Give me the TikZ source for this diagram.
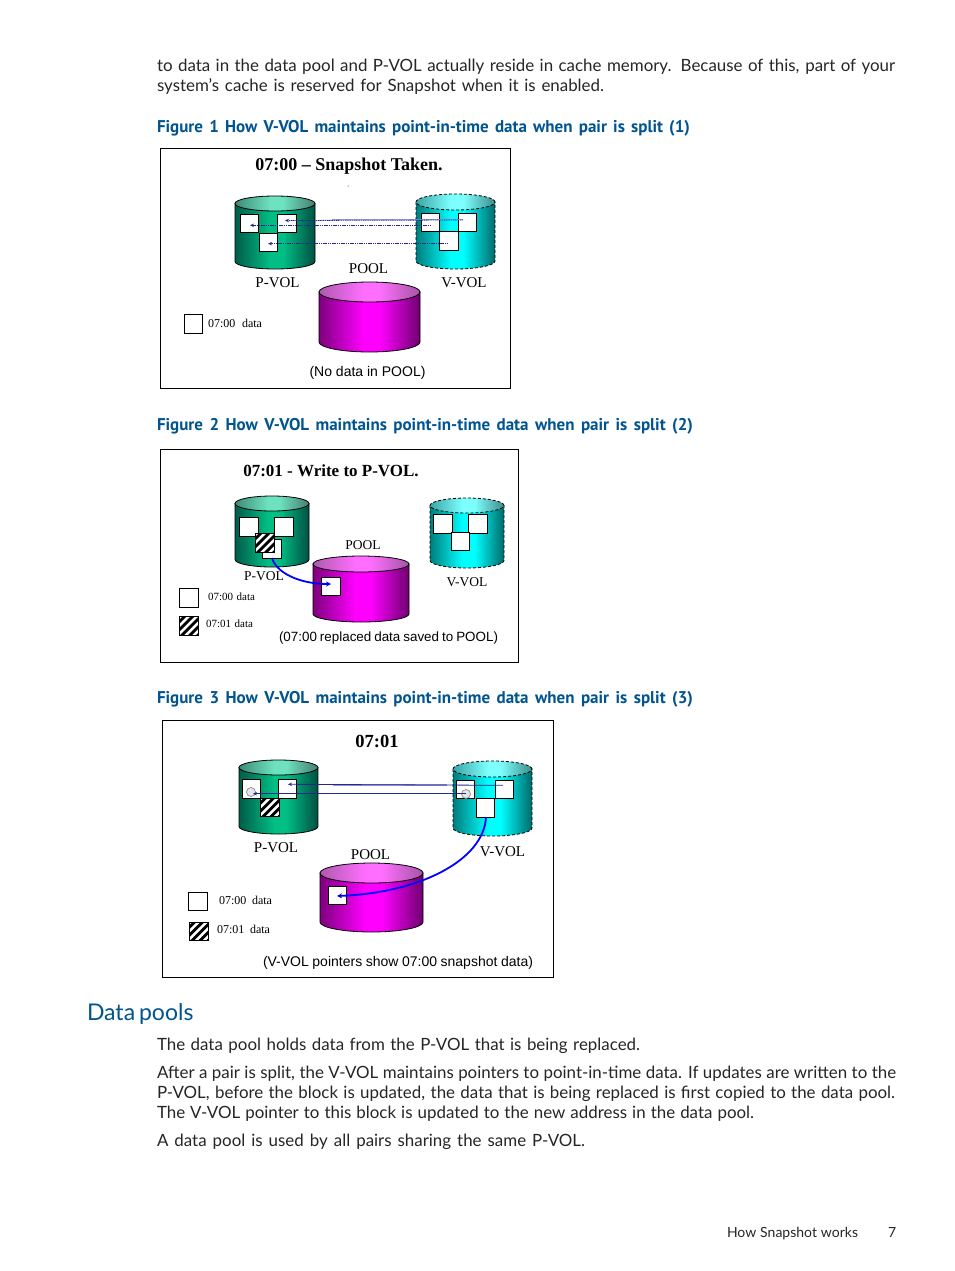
\documentclass[tikz,border=0pt]{standalone}
\usepackage{fontspec}
\usetikzlibrary{shapes.geometric,arrows.meta}
\newfontfamily\bodyf{Lato}
\newfontfamily\capf{PT Sans}
\newfontfamily\serf{Liberation Serif}
\newfontfamily\sanf{Liberation Sans}
\definecolor{hpblue}{RGB}{0,84,143}
\definecolor{ptr}{RGB}{40,40,140}
\definecolor{lav}{RGB}{150,150,225}
\definecolor{pvA}{RGB}{0,92,72}\definecolor{pvB}{RGB}{0,190,132}\definecolor{pvC}{RGB}{0,80,66}
\definecolor{pvD}{RGB}{60,140,120}\definecolor{pvE}{RGB}{110,225,190}\definecolor{pvF}{RGB}{70,125,115}
\definecolor{vvA}{RGB}{0,125,125}\definecolor{vvB}{RGB}{0,255,255}\definecolor{vvC}{RGB}{0,105,105}
\definecolor{vvD}{RGB}{60,165,165}\definecolor{vvE}{RGB}{125,255,255}\definecolor{vvF}{RGB}{60,140,140}
\definecolor{poA}{RGB}{125,0,125}\definecolor{poB}{RGB}{255,0,255}\definecolor{poC}{RGB}{110,0,110}
\definecolor{poD}{RGB}{175,90,175}\definecolor{poE}{RGB}{255,110,255}\definecolor{poF}{RGB}{165,85,165}
\pgfdeclarehorizontalshading{pvbS}{100bp}{color(0bp)=(pvA);color(25bp)=(pvA);color(47bp)=(pvB);color(55bp)=(pvB);color(75bp)=(pvC);color(100bp)=(pvC)}
\pgfdeclarehorizontalshading{pvtS}{100bp}{color(0bp)=(pvD);color(25bp)=(pvD);color(47bp)=(pvE);color(55bp)=(pvE);color(75bp)=(pvF);color(100bp)=(pvF)}
\pgfdeclarehorizontalshading{vvbS}{100bp}{color(0bp)=(vvA);color(25bp)=(vvA);color(47bp)=(vvB);color(55bp)=(vvB);color(75bp)=(vvC);color(100bp)=(vvC)}
\pgfdeclarehorizontalshading{vvtS}{100bp}{color(0bp)=(vvD);color(25bp)=(vvD);color(47bp)=(vvE);color(55bp)=(vvE);color(75bp)=(vvF);color(100bp)=(vvF)}
\pgfdeclarehorizontalshading{pobS}{100bp}{color(0bp)=(poA);color(25bp)=(poA);color(47bp)=(poB);color(55bp)=(poB);color(75bp)=(poC);color(100bp)=(poC)}
\pgfdeclarehorizontalshading{potS}{100bp}{color(0bp)=(poD);color(25bp)=(poD);color(47bp)=(poE);color(55bp)=(poE);color(75bp)=(poF);color(100bp)=(poF)}
\tikzset{
  txt/.style={inner sep=0pt,outer sep=0pt,anchor=base west,text=#1},
  txt/.default=black,
  line/.style={txt=black!85,font=\bodyf\fontsize{16.9}{20}\selectfont},
  figcap/.style={txt=hpblue,font=\capf\bfseries\fontsize{17}{20}\selectfont},
  frame/.style={draw=black,line width=0.9pt},
  sq/.style={draw=black,fill=white,line width=0.8pt,minimum size=18.5pt,inner sep=0pt,outer sep=0pt},
  hatch/.style={sq,path picture={
     \foreach \k in {-24,-16,...,16}{
       \fill[black] ([xshift=\k pt]path picture bounding box.south west) -- ++(4pt,0) -- ++(20pt,20pt) -- ++(-4pt,0) -- cycle;}}},
  title/.style={inner sep=0pt,font=\serf\bfseries\fontsize{#1}{20}\selectfont},
  vlabel/.style={inner sep=0pt,font=\serf\fontsize{#1}{16}\selectfont},
  legend/.style={txt=black,font=\serf\fontsize{#1}{13}\selectfont},
  note/.style={inner sep=0pt,font=\sanf\fontsize{#1}{15}\selectfont},
  ptrline/.style={draw=ptr,line width=0.8pt,-{Stealth[length=4pt,width=3.5pt]}},
  dotptr/.style={ptrline,dash pattern=on 1.2pt off 0.6pt},
  band/.style={draw=lav,line width=1.2pt},
  bigarrow/.style={draw=blue,line width=1.8pt,-{Stealth[length=5pt,width=5pt]}},
  ringmark/.style={circle,draw=black!45,fill=cyan!10!black!12,line width=0.7pt,minimum size=9pt,inner sep=0pt},
}
% name, x0, x1, ytop, yellipsebottom, ybottom, body shading, top shading, outline options
\newcommand{\cyl}[9]{%
  \pgfmathsetmacro{\rx}{(#3-#2)/2}\pgfmathsetmacro{\ry}{(#5-#4)/2}
  \pgfmathsetmacro{\xm}{(#2+#3)/2}\pgfmathsetmacro{\yc}{#4+\ry}\pgfmathsetmacro{\yb}{#6-\ry}
  \pgfmathsetmacro{\kx}{0.5523*\rx}\pgfmathsetmacro{\ky}{0.5523*\ry}
  \path[shade,shading=#7,draw=black,line width=0.8pt,#9] (#2,\yc) -- (#2,\yb)
     .. controls (#2,\yb+\ky) and (\xm-\kx,#6) .. (\xm,#6)
     .. controls (\xm+\kx,#6) and (#3,\yb+\ky) .. (#3,\yb) -- (#3,\yc) -- cycle;
  \node[ellipse,shade,shading=#8,draw=black,line width=0.8pt,#9,inner sep=0pt,outer sep=0pt,
        minimum width=#3 pt-#2 pt,minimum height=#5 pt-#4 pt] (#1) at (\xm,\yc) {};
}
\newcommand{\wl}[2]{\makebox[#1pt][s]{#2}}
\begin{document}
\begin{tikzpicture}[x=1pt,y=-1pt]
\useasboundingbox (0,0) rectangle (954,1271);
\fill[white] (0,0) rectangle (954,1271);
% page text
\node[line] (l1) at (157,72) {\wl{738}{to data in the data pool and P-VOL actually reside in cache memory. Because of this, part of your}};
\node[line] (l2) at (157,92) {\wl{447}{system’s cache is reserved for Snapshot when it is enabled.}};
\node[figcap] (c1) at (157,132) {\wl{533}{Figure 1 How V-VOL maintains point-in-time data when pair is split (1)}};
\node[figcap] (c2) at (157,430) {\wl{536}{Figure 2 How V-VOL maintains point-in-time data when pair is split (2)}};
\node[figcap] (c3) at (157,703) {\wl{536}{Figure 3 How V-VOL maintains point-in-time data when pair is split (3)}};
\node[txt=hpblue,font=\bodyf\fontsize{23}{26}\selectfont] (h1) at (87,1020) {\wl{104}{Data pools}};
\node[line] (l3) at (157,1050) {\wl{483}{The data pool holds data from the P-VOL that is being replaced.}};
\node[line] (l4) at (157,1078) {\wl{739}{After a pair is split, the V-VOL maintains pointers to point-in-time data. If updates are written to the}};
\node[line] (l5) at (157,1098) {\wl{738}{P-VOL, before the block is updated, the data that is being replaced is first copied to the data pool.}};
\node[line] (l6) at (157,1118) {\wl{597}{The V-VOL pointer to this block is updated to the new address in the data pool.}};
\node[line] (l7) at (157,1146) {\wl{428}{A data pool is used by all pairs sharing the same P-VOL.}};
\node[txt=black!85,font=\bodyf\fontsize{14}{16}\selectfont] (f1) at (727,1237) {\wl{131}{How Snapshot works}};
\node[txt=black!85,font=\bodyf\fontsize{14}{16}\selectfont] (f2) at (888,1237) {7};

% ---------- Figure 1
\draw[frame] (160.5,148.5) rectangle (510.5,388.5);
\node[title=18] (a0) at (349,166) {07:00 – Snapshot Taken.};
\fill[black] (348,186) circle (0.5);
\cyl{ap}{235}{315}{196}{211}{269}{pvbS}{pvtS}{solid}
\cyl{av}{416}{495}{194}{210}{269}{vvbS}{vvtS}{densely dashed}
\cyl{ao}{319}{420}{282}{302}{352}{pobS}{potS}{solid}
\node[sq] (ap1) at (249.5,223.5) {};
\node[sq] (ap2) at (287,223.5) {};
\node[sq] (ap3) at (268.5,242.5) {};
\node[sq] (av1) at (430.5,222.5) {};
\node[sq] (av2) at (467.5,222.5) {};
\node[sq] (av3) at (449,241) {};
\coordinate (ab1) at (332,219.7); \coordinate (ab2) at (463,219.7);
\draw[band] (ab1) -- (ab2);
\coordinate (as1) at (463,220); \coordinate (ae1) at (285,220.5);
\coordinate (as2) at (431,225.3); \coordinate (ae2) at (250,225.3);
\coordinate (as3) at (448,243.7); \coordinate (ae3) at (268,243.7);
\draw[dotptr] (as1) -- (ae1);
\draw[dotptr] (as2) -- (ae2);
\draw[dotptr] (as3) -- (ae3);
\node[vlabel=15] (a1) at (277.5,283) {P-VOL};
\node[vlabel=15] (a2) at (464,283) {V-VOL};
\node[vlabel=15] (a3) at (368.5,269) {POOL};
\node[sq] (a4) at (193.5,324) {};
\node[legend=12] (a5) at (208,327) {\wl{54}{07:00 data}};
\node[note=14] (a6) at (367.5,372.5) {(No data in POOL)};

% ---------- Figure 2
\draw[frame] (160.5,449.5) rectangle (518.5,662.5);
\node[title=17] (b0) at (331,471) {07:01 - Write to P-VOL.};
\cyl{bp}{235}{309}{496}{511}{567}{pvbS}{pvtS}{solid}
\cyl{bv}{430}{504}{498}{513}{568}{vvbS}{vvtS}{densely dashed}
\cyl{bo}{313}{409}{556}{572}{622}{pobS}{potS}{solid}
\node[sq] (bp1) at (249,527) {};
\node[sq] (bp2) at (284,527) {};
\node[sq] (bp3) at (272,549) {};
\node[hatch] (bp4) at (265,543) {};
\node[sq] (bv1) at (443,524) {};
\node[sq] (bv2) at (478,524) {};
\node[sq] (bv3) at (460.5,541.5) {};
\node[sq] (bo1) at (331,586.5) {};
\coordinate (bs) at (272,558); \coordinate (be) at (331,584);
\draw[bigarrow] (bs) .. controls (276,572) and (298,584) .. (be);
\node[vlabel=13.5] (b1) at (264,576) {P-VOL};
\node[vlabel=13.5] (b2) at (467,582) {V-VOL};
\node[vlabel=13.5] (b3) at (363,545) {POOL};
\node[sq] (b4) at (189,598) {};
\node[hatch] (b5) at (189,626) {};
\node[legend=11] (b6) at (208,600) {\wl{47}{07:00 data}};
\node[legend=11] (b7) at (206,627) {\wl{47}{07:01 data}};
\node[note=13.4] (b8) at (388.5,638.5) {\wl{219}{(07:00 replaced data saved to POOL)}};

% ---------- Figure 3
\draw[frame] (162.5,720.5) rectangle (553.5,977.5);
\node[title=18.5] (d0) at (377,741) {07:01};
\cyl{dp}{239}{318}{760}{775}{834}{pvbS}{pvtS}{solid}
\cyl{dv}{453}{532}{761}{777}{836}{vvbS}{vvtS}{densely dashed}
\cyl{do}{320}{423}{863}{883}{932}{pobS}{potS}{solid}
\node[sq] (dp1) at (251.5,789) {};
\node[sq] (dp2) at (287.5,789) {};
\node[hatch] (dp3) at (270,807.5) {};
\node[sq] (dv1) at (465.5,789.5) {};
\node[sq] (dv2) at (504.5,789.5) {};
\node[sq] (dv3) at (485.5,808) {};
\node[sq] (do1) at (337.5,895.5) {};
\node[ringmark] (dc1) at (251,792) {};
\node[ringmark] (dc2) at (466,794) {};
\coordinate (db1) at (333,785); \coordinate (db2) at (447,785);
\draw[band] (db1) -- (db2);
\coordinate (ds1) at (503,785.3); \coordinate (de1) at (288,784.3);
\coordinate (ds2) at (466,793.7); \coordinate (de2) at (253,793.7);
\draw[ptrline] (ds1) -- (de1);
\draw[ptrline] (ds2) -- (de2);
\coordinate (ds3) at (486,817); \coordinate (de3) at (337,896);
\draw[bigarrow] (ds3) .. controls (484,860) and (420,893) .. (de3);
\node[vlabel=15] (d1) at (276,848) {P-VOL};
\node[vlabel=15] (d2) at (502.5,852) {V-VOL};
\node[vlabel=15] (d3) at (370.5,855) {POOL};
\node[sq] (d4) at (198,901.5) {};
\node[hatch] (d5) at (199,931.5) {};
\node[legend=12] (d6) at (219,904) {\wl{53}{07:00 data}};
\node[legend=12] (d7) at (217,933) {\wl{53}{07:01 data}};
\node[note=14] (d8) at (398,963) {\wl{270}{(V-VOL pointers show 07:00 snapshot data)}};
\end{tikzpicture}
\end{document}
